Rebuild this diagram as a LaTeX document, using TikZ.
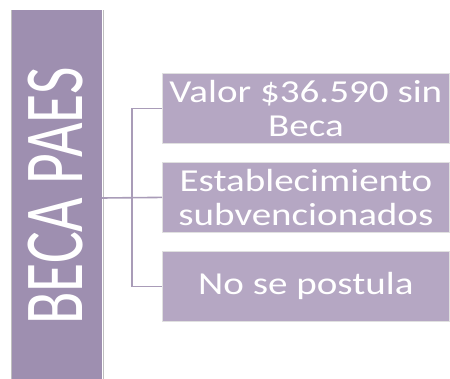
\documentclass[tikz,border=0pt]{standalone}
\usepackage{fontspec}
\setmainfont{Carlito}
\newfontfamily\leaffont[FakeStretch=1.22]{Carlito}
\newfontfamily\paesfont[FakeStretch=0.71]{Carlito}
\usepackage{xcolor}
\usetikzlibrary{positioning}
\definecolor{paesdark}{HTML}{9E8FB0}
\definecolor{paeslight}{HTML}{B5A7C3}
\definecolor{paesline}{HTML}{A99CB8}

\begin{document}
\begin{tikzpicture}[x=1pt,y=-1pt,
  leaf/.style={fill=paeslight,draw=black!12,line width=0.8pt,minimum width=287pt,
    minimum height=70pt,align=center,text=white,font=\leaffont\fontsize{32}{34}\selectfont,anchor=north west,inner sep=0pt},
  link/.style={paesline,line width=1.6pt}]
  \useasboundingbox (0,0) rectangle (450,378);
  \fill[paesdark] (12,10) rectangle (102,380);
  \draw[black!25,line width=0.8pt] (11,10) -- (11,380) (103,10) -- (103,380);
  \node[text=white,rotate=90,font=\paesfont\fontsize{84}{86}\selectfont,inner sep=0pt] (paes) at (56,196) {BECA PAES};
  \coordinate (pe) at (102,198);
  \node[leaf] (valor) at (162,73) {Valor \$36.590 sin\\Beca};
  \node[leaf] (estab) at (162,162) {Establecimiento\\subvencionados};
  \node[leaf] (nopost) at (162,251) {No se postula};
  \coordinate (bus) at (132,198);
  \draw[link] (pe) -- (estab.west);
  \draw[link] (valor.west) -| (bus) |- (nopost.west);
\end{tikzpicture}
\end{document}
